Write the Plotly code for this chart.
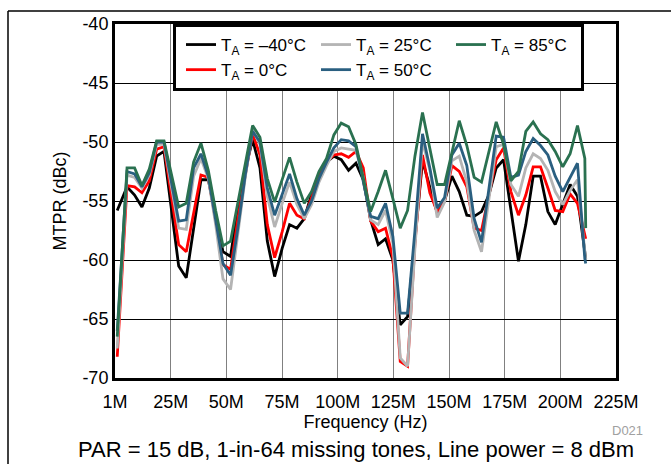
import plotly.graph_objects as go

# Frequency points (MHz)
freq_mhz = [1, 5.4, 8.8, 12.1, 15.4, 18.7, 22.0, 25.3, 28.6, 32.0, 35.3, 38.6, 41.9,
            45.2, 48.5, 51.9, 55.2, 58.5, 61.8, 65.1, 68.4, 71.7, 75.1, 78.4, 81.7,
            85.0, 88.3, 91.6, 95.0, 98.3, 101.6, 104.9, 108.2, 111.5, 114.8, 118.2,
            121.5, 124.8, 128.1, 131.4, 134.7, 138.1, 141.4, 144.7, 148.0, 151.3,
            154.6, 158.0, 161.3, 164.6, 167.9, 171.2, 174.5, 177.8, 181.2, 184.5,
            187.8, 191.1, 194.4, 197.7, 201.1, 204.4, 207.7, 211.0, 211.4]

mtpr_m40 = [-55.8, -53.8, -54.5, -55.5, -53.9, -51.2, -50.8, -55.5, -60.5, -61.5, -57.4,
            -53.2, -53.2, -56.3, -59.3, -59.7, -55.5, -52.3, -49.8, -52.2, -58.4, -61.4,
            -59.0, -57.0, -57.3, -56.5, -54.4, -52.8, -51.7, -51.2, -51.5, -52.4, -51.8,
            -53.2, -56.6, -58.7, -58.2, -60.0, -65.5, -64.8, -58.6, -51.6, -53.8, -56.0,
            -55.0, -52.9, -54.2, -56.2, -56.3, -55.9, -54.5, -52.2, -51.5, -55.6, -60.1,
            -57.0, -52.9, -52.9, -55.9, -57.0, -55.3, -53.6, -54.6, -59.5, -59.9]

mtpr_0 = [-68.2, -53.7, -53.8, -54.3, -53.3, -50.6, -50.4, -54.5, -58.7, -59.3, -55.9,
          -52.8, -53.0, -56.6, -60.4, -60.8, -56.5, -52.8, -49.3, -51.1, -57.0, -59.8,
          -57.6, -55.2, -56.2, -56.5, -54.6, -52.9, -51.7, -51.1, -51.0, -51.3, -50.8,
          -52.2, -56.7, -57.6, -57.3, -59.8, -68.6, -69.0, -58.6, -51.1, -54.3, -55.9,
          -55.0, -52.0, -52.5, -53.8, -57.3, -57.5, -54.5, -51.5, -50.5, -54.2, -56.2,
          -54.5, -52.1, -52.1, -53.9, -55.8, -55.9, -54.4, -55.2, -57.8, -58.2]

mtpr_25 = [-67.5, -52.8, -53.0, -53.9, -52.8, -50.2, -50.2, -53.8, -57.3, -57.4, -52.9,
           -51.4, -53.1, -57.0, -61.6, -62.5, -57.8, -53.0, -49.0, -50.2, -54.6, -57.2,
           -55.2, -53.4, -55.3, -56.5, -55.3, -53.4, -52.0, -50.8, -50.5, -50.6, -50.7,
           -53.0, -56.6, -57.0, -55.8, -58.6, -68.3, -69.0, -59.0, -49.9, -52.4, -56.4,
           -55.1, -51.6, -51.2, -53.4, -57.5, -59.3, -54.8, -50.4, -50.2, -53.6, -54.6,
           -52.2, -51.0, -51.4, -52.4, -54.2, -55.3, -54.1, -53.2, -59.5, -60.0]

mtpr_50 = [-66.0, -52.5, -52.7, -53.8, -52.6, -50.0, -50.0, -53.3, -56.7, -56.6, -52.2,
           -51.0, -52.9, -56.6, -60.3, -61.3, -57.3, -52.8, -49.1, -50.0, -53.9, -56.2,
           -54.4, -52.7, -54.8, -56.2, -55.0, -53.1, -51.7, -50.5, -49.8, -49.9, -50.4,
           -53.3, -56.3, -56.5, -55.2, -58.0, -64.5, -64.5, -57.5, -49.3, -52.2, -55.6,
           -54.7, -51.1, -50.1, -52.0, -56.5, -58.5, -54.2, -49.5, -49.6, -53.0, -52.8,
           -50.8, -49.7, -50.3, -51.1, -52.9, -54.2, -53.0, -51.8, -59.9, -60.3]

mtpr_85 = [-66.5, -52.2, -52.2, -53.7, -52.3, -49.9, -49.9, -52.8, -55.5, -55.2, -51.7,
           -50.1, -52.4, -55.8, -58.8, -58.4, -55.2, -51.7, -48.6, -49.6, -53.1, -55.1,
           -53.2, -51.3, -53.4, -55.2, -54.2, -52.5, -51.4, -49.4, -48.4, -48.7, -50.2,
           -53.1, -55.9, -54.2, -52.4, -54.8, -57.3, -55.8, -51.2, -47.5, -50.4, -53.6,
           -53.6, -50.8, -48.2, -50.3, -53.0, -53.4, -50.8, -48.3, -50.2, -53.3, -52.5,
           -49.1, -48.3, -49.3, -49.8, -50.8, -52.1, -51.0, -48.6, -51.4, -57.3]

series_names = ["T<sub>A</sub> = \u201340\u00b0C", "T<sub>A</sub> = 0\u00b0C",
                "T<sub>A</sub> = 25\u00b0C", "T<sub>A</sub> = 50\u00b0C",
                "T<sub>A</sub> = 85\u00b0C"]
series_values = [mtpr_m40, mtpr_0, mtpr_25, mtpr_50, mtpr_85]
series_colors = ["#000000", "#ff0000", "#b4b4b4", "#2a5f80", "#2a7150"]
legend_ranks = [1, 4, 2, 5, 3]

x_tickvals = [0, 25, 50, 75, 100, 125, 150, 175, 200, 225]
x_ticktext = ["1M", "25M", "50M", "75M", "100M", "125M", "150M", "175M", "200M", "225M"]
y_tickvals = [-70, -65, -60, -55, -50, -45, -40]
y_ticktext = ["-70", "-65", "-60", "-55", "-50", "-45", "-40"]

FONT = "Liberation Sans, Arial, sans-serif"

fig = go.Figure()
for name, vals, col, rank in zip(series_names, series_values, series_colors, legend_ranks):
    fig.add_trace(go.Scatter(x=freq_mhz, y=vals, mode="lines", name=name,
                             line=dict(color=col, width=2.8), legendrank=rank))

L, R, T, B = 115, 55, 24, 86
W, H = 671, 464
pw, ph = W - L - R, H - T - B

def px_x(p):
    return (p - L) / pw

def px_y(p):
    return (H - B - p) / ph

fig.update_layout(
    width=W, height=H, autosize=False,
    margin=dict(l=L, r=R, t=T, b=B),
    paper_bgcolor="white", plot_bgcolor="white",
    font=dict(family=FONT, size=18, color="black"),
    showlegend=True,
    legend=dict(orientation="h", x=px_x(173), y=1, xanchor="left", yanchor="top",
                bgcolor="white", bordercolor="black", borderwidth=3,
                font=dict(family=FONT, size=17, color="black"),
                entrywidth=85, entrywidthmode="pixels", indentation=5,
                tracegroupgap=0, itemwidth=30),
    xaxis=dict(range=[0, 225], tickvals=x_tickvals, ticktext=x_ticktext,
               showgrid=True, gridcolor="#808080", gridwidth=1,
               showline=True, linecolor="black", linewidth=3, mirror=True,
               ticks="", zeroline=False, ticklabelstandoff=5,
               tickfont=dict(family=FONT, size=18),
               title=dict(text="Frequency (Hz)", font=dict(family=FONT, size=18), standoff=4)),
    yaxis=dict(range=[-70, -40], tickvals=y_tickvals, ticktext=y_ticktext,
               showgrid=True, gridcolor="black", gridwidth=1,
               showline=True, linecolor="black", linewidth=3, mirror=True,
               ticks="", zeroline=False,
               tickfont=dict(family=FONT, size=18),
               title=dict(text="MTPR (dBc)", font=dict(family=FONT, size=18), standoff=12)),
)

fig.add_annotation(text="PAR = 15 dB, 1-in-64 missing tones, Line power = 8 dBm",
                   xref="paper", yref="paper", x=px_x(356), y=px_y(449),
                   xanchor="center", yanchor="middle", showarrow=False,
                   font=dict(family=FONT, size=22, color="black"))
fig.add_annotation(text="D021", xref="paper", yref="paper", x=px_x(627), y=px_y(431),
                   xanchor="center", yanchor="middle", showarrow=False,
                   font=dict(family=FONT, size=13, color="#a0a0a0"))

# outer frame lines (left and top)
fig.add_shape(type="line", xref="paper", yref="paper", x0=px_x(8), x1=px_x(671),
              y0=px_y(11), y1=px_y(11), line=dict(color="black", width=1.5))
fig.add_shape(type="line", xref="paper", yref="paper", x0=px_x(8), x1=px_x(8),
              y0=px_y(11), y1=px_y(464), line=dict(color="black", width=1.5))

fig.write_html("out.html")
